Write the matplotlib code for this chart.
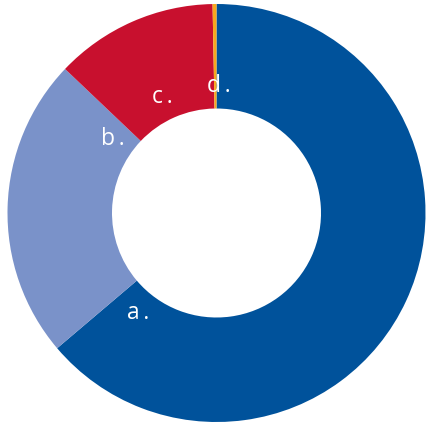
import matplotlib
matplotlib.use("Agg")
import matplotlib.pyplot as plt
import numpy as np

labels = ["a.", "b.", "c.", "d."]
values = [63.8, 23.3, 12.6, 0.3]
colors = ["#00529B", "#7A92C9", "#C8102E", "#F7A81E"]
label_angles = [232, 144.6, 115, 89]
label_r = 0.61

fig = plt.figure(figsize=(4.27, 4.28), dpi=100)
ax = fig.add_axes([0, 0, 1, 1])
ax.pie(values, colors=colors, startangle=90, counterclock=False,
       radius=1.0, wedgeprops=dict(width=0.5, linewidth=0))
for lab, ang in zip(labels, label_angles):
    t = np.deg2rad(ang)
    ax.text(label_r * np.cos(t), label_r * np.sin(t), lab.replace(".", "\u2009."), color="white",
            fontsize=16.5, family=["Open Sans", "DejaVu Sans"],
            ha="center", va="center")
ax.set_aspect("auto")
ax.set_xlim(-216.5 / 209, (427 - 216.5) / 209)
ax.set_ylim(-215 / 209, 213 / 209)
ax.axis("off")
fig.savefig("out.png", dpi=100)
